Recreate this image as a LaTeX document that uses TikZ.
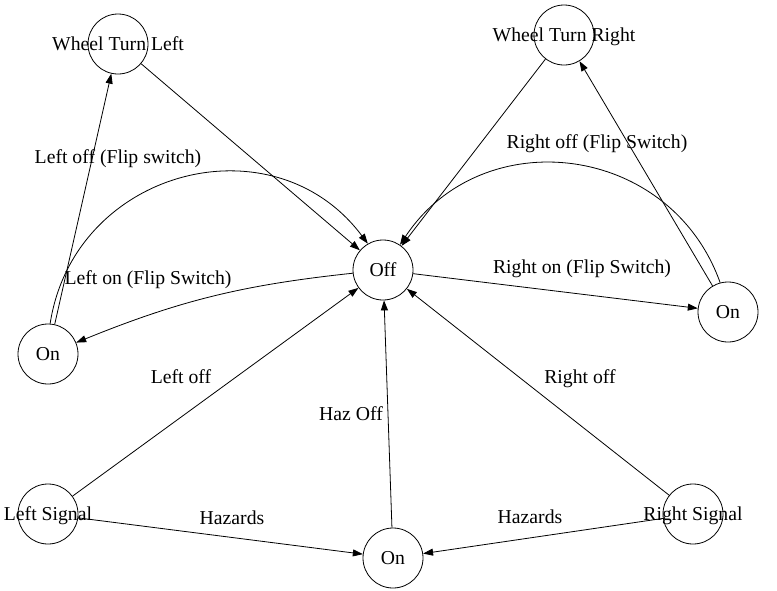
\documentclass[tikz,border=0pt]{standalone}
\usepackage{fontspec}
\setmainfont{Liberation Serif}
\usetikzlibrary{arrows.meta}

\begin{document}
\begin{tikzpicture}[x=1pt, y=-1pt,
  lamp/.style={circle, draw, line width=0.8pt, minimum size=60pt, inner sep=0pt},
  txt/.style={font=\fontsize{19.7}{22}\selectfont, inner sep=0pt, text height=14pt, text depth=0.7pt},
  link/.style={line width=0.8pt, -{Triangle[length=10pt,width=7pt]}}]

\useasboundingbox (0,0) rectangle (777,590);

% states
\node[lamp] (wtl) at (118,44) {};
\node[lamp] (wtr) at (564,35) {};
\node[lamp] (off) at (383,270) {};
\node[lamp] (onl) at (48,354) {};
\node[lamp] (onr) at (728,312) {};
\node[lamp] (lsig) at (48,514) {};
\node[lamp] (rsig) at (693,514) {};
\node[lamp] (onb) at (393,558) {};

% state names (wider than the circles)
\node[txt] (wtlname) at (wtl) {Wheel Turn Left};
\node[txt] (wtrname) at (wtr) {Wheel Turn Right};
\node[txt] (offname) at (off) {Off};
\node[txt] (onlname) at (onl) {On};
\node[txt] (onrname) at (onr) {On};
\node[txt] (lsigname) at (lsig) {Left Signal};
\node[txt] (rsigname) at (rsig) {Right Signal};
\node[txt] (onbname) at (onb) {On};

% left turn
\draw[link] (onl) -- (wtl);
\draw[link] (wtl) -- (off);
\draw[link] (onl.86) .. controls +(24,-155) and +(-94,-126) .. (off.120);
\draw[link] (off) to[bend right=8] (onl);

% right turn
\draw[link] (off) -- (onr);
\draw[link] (onr.105) .. controls +(-50,-140) and +(82,-124) .. (off.56);
\draw[link] (onr) -- (wtr);
\draw[link] (wtr) -- (off);

% signals and hazards
\draw[link] (lsig) -- (off);
\draw[link] (rsig) -- (off);
\draw[link] (onb) -- (off);
\draw[link] (lsig) -- (onb);
\draw[link] (rsig) -- (onb);

% transition labels
\node[txt] (lofflip) at (118,157) {Left off (Flip switch)};
\node[txt] (lonflip) at (148,278) {Left on (Flip Switch)};
\node[txt] (rofflip) at (597,142) {Right off (Flip Switch)};
\node[txt] (ronflip) at (582,267) {Right on (Flip Switch)};
\node[txt] (loff) at (181,377) {Left off};
\node[txt] (roff) at (580,377) {Right off};
\node[txt] (hazoff) at (351,414) {Haz Off};
\node[txt] (hazl) at (232,518) {Hazards};
\node[txt] (hazr) at (530,517) {Hazards};

\end{tikzpicture}
\end{document}
